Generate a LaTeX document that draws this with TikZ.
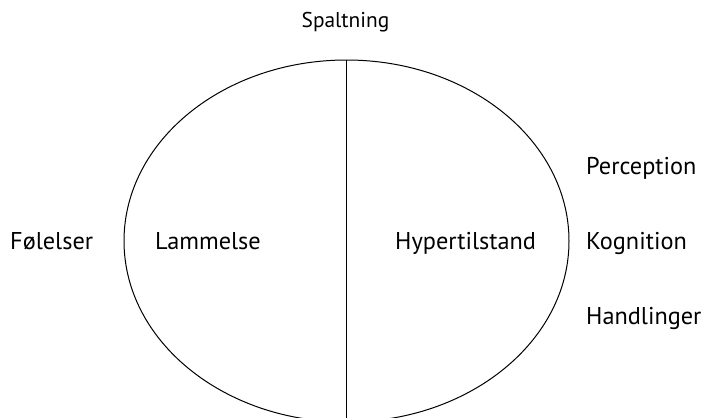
\documentclass[tikz,border=0pt]{standalone}
\usepackage{fontspec}
\setmainfont{PT Sans}
\begin{document}
\begin{tikzpicture}[x=1pt,y=-1pt,
    word/.style={font=\fontsize{24.3}{28}\selectfont, inner sep=0pt, anchor=base west}]
    \useasboundingbox (0,0) rectangle (705,418);
    \clip (0,0) rectangle (705,418);

    %split
    \draw[line width=1pt] (346.5,241) ellipse [x radius=222.5, y radius=181];
    \coordinate (top) at (346.5,60);
    \coordinate (bottom) at (346.5,418);
    \draw[line width=1pt] (top) -- (bottom);

    %labels
    \node[word, anchor=base, font=\fontsize{21.4}{25}\selectfont] (spalt) at (345.5,27) {Spaltning};
    \node[word] (fol) at (10,249) {Følelser};
    \node[word] (lam) at (155,249) {Lammelse};
    \node[word] (hyp) at (395,249) {Hypertilstand};
    \node[word] (per) at (586,174) {Perception};
    \node[word] (kog) at (586,249) {Kognition};
    \node[word] (han) at (586,324) {Handlinger};

\end{tikzpicture}
\end{document}
